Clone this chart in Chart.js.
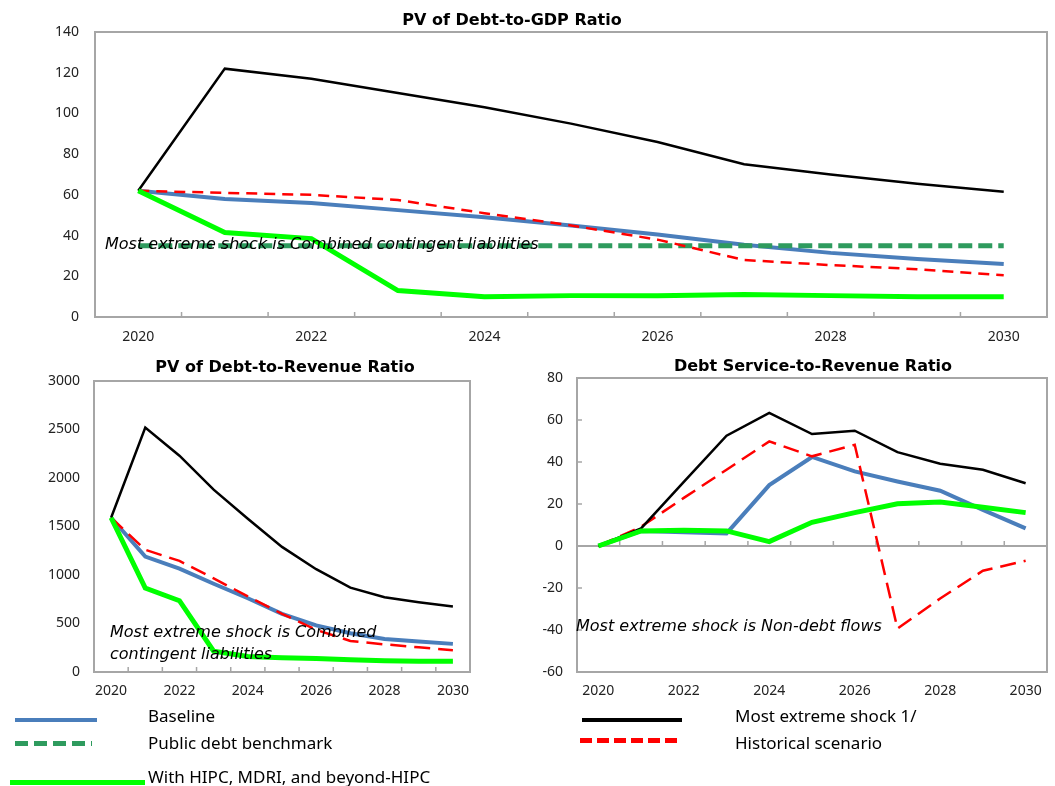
<!DOCTYPE html>
<html>
<head>
<meta charset="utf-8">
<script src="https://cdn.jsdelivr.net/npm/chart.js@4/dist/chart.umd.min.js"></script>
<style>
  body { margin: 0; background: #fff; font-family: "Noto Sans", sans-serif; }
  #page { position: relative; width: 1055px; height: 786px; overflow: hidden; }
  .box { position: absolute; }
  .title { position: absolute; width: 400px; text-align: center; font-family: "DejaVu Sans", sans-serif; font-weight: bold; font-size: 16px; line-height: 18px; color: #000; }
  .note { position: absolute; font-family: "DejaVu Sans", sans-serif; font-style: italic; font-size: 16px; line-height: 22px; color: #000; white-space: nowrap; }
  .leg { position: absolute; font-size: 17px; line-height: 20px; color: #000; white-space: nowrap; }
  .swatch { position: absolute; }
</style>
</head>
<body>
<div id="page">
  <div class="box" style="left:0;top:0;width:1055px;height:350px"><canvas id="gdp"></canvas></div>
  <div class="box" style="left:0;top:350px;width:500px;height:360px"><canvas id="rev"></canvas></div>
  <div class="box" style="left:520px;top:350px;width:535px;height:360px"><canvas id="ds"></canvas></div>

  <div class="title" style="left:312px;top:11px">PV of Debt-to-GDP Ratio</div>
  <div class="title" style="left:85px;top:358px">PV of Debt-to-Revenue Ratio</div>
  <div class="title" style="left:613px;top:357px">Debt Service-to-Revenue Ratio</div>

  <div class="note" style="left:105px;top:233px">Most extreme shock is Combined contingent liabilities</div>
  <div class="note" style="left:110px;top:621px">Most extreme shock is Combined<br>contingent liabilities</div>
  <div class="note" style="left:576px;top:615px">Most extreme shock is Non-debt flows</div>

  <div class="swatch" style="left:15px;top:718px;width:82px;height:4px;background:#4A7EBB"></div>
  <div class="leg" style="left:148px;top:706px">Baseline</div>
  <div class="swatch" style="left:15px;top:741px;width:77px;height:5px;background:repeating-linear-gradient(90deg,#2E9B5E 0 13px,transparent 13px 19px)"></div>
  <div class="leg" style="left:148px;top:733px">Public debt benchmark</div>
  <div class="swatch" style="left:10px;top:780px;width:135px;height:5px;background:#00FF00"></div>
  <div class="leg" style="left:148px;top:767px">With HIPC, MDRI, and beyond-HIPC</div>
  <div class="swatch" style="left:582px;top:718px;width:100px;height:4px;background:#000"></div>
  <div class="leg" style="left:735px;top:706px">Most extreme shock 1/</div>
  <div class="swatch" style="left:580px;top:738px;width:102px;height:5px;background:repeating-linear-gradient(90deg,#FF0000 0 12px,transparent 12px 17px)"></div>
  <div class="leg" style="left:735px;top:733px">Historical scenario</div>
</div>

<script>
// years on the x axis
const years = ['2020','2021','2022','2023','2024','2025','2026','2027','2028','2029','2030'];

// PV of Debt-to-GDP Ratio
const gdpBaseline   = [62, 58, 56, 52.5, 49, 45, 40.5, 35.5, 31.5, 28.5, 26];
const gdpBenchmark  = [35, 35, 35, 35, 35, 35, 35, 35, 35, 35, 35];
const gdpExtreme    = [62, 122, 117, 110, 103, 95, 86, 75, 70, 65.5, 61.5];
const gdpHistorical = [62, 61, 60, 57.5, 51, 45, 38, 28, 25.5, 23.5, 20.5];
const gdpHipc       = [62, 41.5, 38.5, 13, 10, 10.5, 10.5, 11, 10.5, 10, 10];

// PV of Debt-to-Revenue Ratio
const revBaseline   = [1590, 1190, 1065, 910, 760, 600, 480, 400, 340, 315, 290];
const revExtreme    = [1590, 2520, 2230, 1880, 1580, 1290, 1060, 870, 770, 720, 675];
const revHistorical = [1590, 1260, 1145, 965, 780, 600, 435, 320, 285, 255, 225];
const revHipc       = [1590, 865, 735, 215, 160, 148, 138, 127, 117, 110, 110];

// Debt Service-to-Revenue Ratio
const dsBaseline   = [0, 7.2, 6.5, 6, 29, 42.4, 35.5, 30.7, 26.3, 17.2, 8.4];
const dsExtreme    = [0, 8.4, 30.5, 52.5, 63.4, 53.3, 54.9, 44.7, 39.2, 36.3, 29.9];
const dsHistorical = [0, 9.2, 22.9, 36.3, 49.8, 42.7, 48.2, -39.3, -25, -11.8, -7];
const dsHipc       = [0, 7.2, 7.5, 7.2, 2.1, 11.3, 15.9, 20.1, 20.9, 18.5, 15.9];

const axisGray = '#A6A6A6';
const tickFont = { family: 'Noto Sans', size: 14 };

// frame round the plot + small inward tick marks like the excel original
const framePlugin = {
  id: 'frame',
  beforeDatasetsDraw(chart, args, opts) {
    const { ctx, chartArea: a, scales } = chart;
    ctx.save();
    ctx.strokeStyle = axisGray;
    ctx.lineWidth = 2;
    ctx.strokeRect(a.left, a.top, a.right - a.left, a.bottom - a.top);
    ctx.lineWidth = 1.5;
    const xs = scales.x, ys = scales.y;
    const yLine = opts.zeroAxis ? ys.getPixelForValue(0) : a.bottom;
    ctx.beginPath();
    for (let i = 1; i < years.length; i++) {
      const px = (xs.getPixelForValue(i - 1) + xs.getPixelForValue(i)) / 2;
      ctx.moveTo(px, yLine);
      ctx.lineTo(px, yLine - 5);
    }
    if (opts.yTicks) {
      ys.ticks.forEach(t => {
        const py = ys.getPixelForValue(t.value);
        ctx.moveTo(a.left, py);
        ctx.lineTo(a.left + 5, py);
      });
    }
    ctx.stroke();
    ctx.restore();
  }
};

function line(data, color, width, dash) {
  return {
    data: data,
    borderColor: color,
    borderWidth: width,
    borderDash: dash || [],
    pointRadius: 0,
    tension: 0,
    fill: false
  };
}

function makeChart(id, datasets, yOpts, lay) {
  return new Chart(document.getElementById(id), {
    type: 'line',
    data: { labels: years, datasets: datasets },
    plugins: [framePlugin],
    options: {
      responsive: true,
      maintainAspectRatio: false,
      animation: false,
      events: [],
      layout: { padding: lay.padding },
      plugins: {
        legend: { display: false },
        tooltip: { enabled: false },
        frame: { zeroAxis: !!lay.zeroAxis, yTicks: !!lay.yTicks }
      },
      scales: {
        x: {
          offset: true,
          grid: { display: false, offset: true, drawTicks: false },
          border: { display: false },
          ticks: {
            autoSkip: false,
            maxRotation: 0,
            padding: lay.xPad,
            color: '#222',
            font: tickFont,
            callback: (v, i) => (i % 2 === 0 ? years[i] : '')
          },
          afterFit: s => { s.height = lay.xHeight; }
        },
        y: {
          min: yOpts.min,
          max: yOpts.max,
          grid: {
            drawTicks: false,
            color: c => (lay.zeroAxis && c.tick.value === 0 ? axisGray : 'rgba(0,0,0,0)'),
            lineWidth: 2
          },
          border: { display: false },
          ticks: {
            stepSize: yOpts.step,
            padding: lay.yPad,
            color: '#222',
            font: tickFont,
            callback: v => String(v)
          },
          afterFit: s => { s.width = lay.yWidth; }
        }
      }
    }
  });
}

makeChart('gdp', [
  line(gdpHipc, '#00FF00', 5),
  line(gdpExtreme, '#000000', 2.5),
  line(gdpHistorical, '#FF0000', 2.5, [11, 7]),
  line(gdpBenchmark, '#2E9B5E', 5, [14, 6]),
  line(gdpBaseline, '#4A7EBB', 4)
], { min: 0, max: 140, step: 20 },
   { padding: { top: 32, right: 8, left: 0, bottom: 0 }, xHeight: 33, yWidth: 95, xPad: 12, yPad: 16 });

makeChart('rev', [
  line(revHipc, '#00FF00', 5),
  line(revExtreme, '#000000', 2.5),
  line(revHistorical, '#FF0000', 2.5, [16, 8]),
  line(revBaseline, '#4A7EBB', 4)
], { min: 0, max: 3000, step: 500 },
   { padding: { top: 31, right: 30, left: 0, bottom: 0 }, xHeight: 38, yWidth: 94, xPad: 11, yPad: 14 });

makeChart('ds', [
  line(dsHipc, '#00FF00', 5),
  line(dsExtreme, '#000000', 2.5),
  line(dsHistorical, '#FF0000', 2.5, [16, 8]),
  line(dsBaseline, '#4A7EBB', 4)
], { min: -60, max: 80, step: 20 },
   { padding: { top: 28, right: 8, left: 0, bottom: 0 }, xHeight: 38, yWidth: 57, xPad: 11, yPad: 14, zeroAxis: true, yTicks: true });
</script>
</body>
</html>
